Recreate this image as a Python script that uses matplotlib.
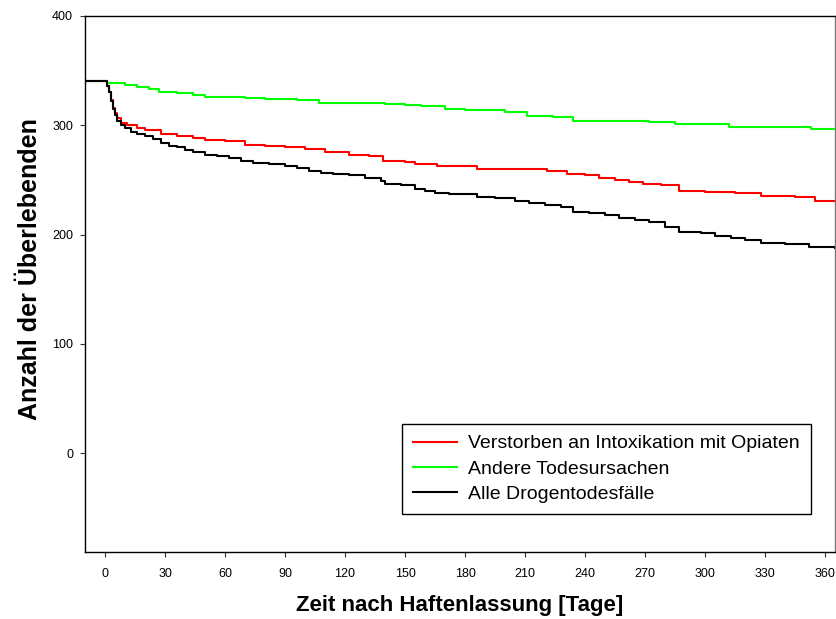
import matplotlib
matplotlib.use("Agg")
import matplotlib.pyplot as plt

plt.rcParams['font.family'] = ['Liberation Sans', 'DejaVu Sans']

# Kaplan-Meier style step data: (day, number of survivors)
days_opiate = [-10, 1, 2, 3, 4, 5, 6, 8, 11, 16, 20, 28, 36, 44, 50, 60, 70, 80, 90,
               100, 110, 122, 132, 139, 150, 155, 166, 186, 221, 231, 240, 247, 255,
               262, 269, 278, 287, 300, 315, 328, 345, 355, 365]
surv_opiate = [340, 336, 330, 323, 316, 311, 306, 302, 300, 297, 295, 292, 290, 288, 286,
               285, 282, 281, 280, 278, 275, 273, 272, 267, 266, 264, 263, 260, 258, 255,
               254, 252, 250, 248, 246, 245, 240, 239, 238, 235, 234, 231, 231]

days_other = [-10, 1, 10, 16, 22, 27, 36, 44, 50, 70, 80, 96, 107, 140, 150, 158, 170,
              180, 200, 211, 224, 234, 272, 285, 312, 353, 365]
surv_other = [340, 338, 337, 335, 333, 330, 329, 327, 326, 325, 324, 323, 320, 319, 318,
              317, 315, 314, 312, 308, 307, 304, 303, 301, 298, 296, 296]

days_all = [-10, 1, 2, 3, 4, 5, 6, 8, 10, 13, 16, 20, 24, 28, 32, 36, 40, 44, 50, 56, 62,
            68, 74, 82, 90, 96, 102, 108, 114, 122, 130, 138, 140, 148, 155, 160, 165,
            172, 186, 195, 205, 212, 220, 228, 234, 242, 250, 257, 265, 272, 280, 287,
            298, 305, 313, 320, 328, 340, 352, 365]
surv_all = [340, 336, 330, 322, 315, 309, 304, 300, 297, 294, 292, 290, 287, 284, 281,
            280, 277, 275, 273, 272, 270, 267, 265, 264, 263, 261, 258, 256, 255, 254,
            252, 249, 246, 245, 242, 240, 238, 237, 234, 233, 231, 229, 227, 225, 221,
            220, 218, 215, 213, 211, 207, 202, 201, 199, 197, 195, 192, 191, 189, 188]

labels = ['Verstorben an Intoxikation mit Opiaten', 'Andere Todesursachen',
          'Alle Drogentodesfälle']

fig = plt.figure(figsize=(8.37, 6.19), dpi=100)
ax = fig.add_axes([0.1016, 0.1082, 0.896, 0.8667])

ax.step(days_opiate, surv_opiate, where='post', color='#ff0000', lw=1.5, label=labels[0])
ax.step(days_other, surv_other, where='post', color='#00ff00', lw=1.5, label=labels[1])
ax.step(days_all, surv_all, where='post', color='black', lw=1.5, label=labels[2])

ax.set_xlim(-10, 365)
ax.set_ylim(-90, 400)
ax.set_xticks(range(0, 361, 30))
ax.set_yticks(range(0, 401, 100))
ax.tick_params(direction='out', length=3.6, width=0.8, labelsize=9, colors='#333333',
               labelcolor='black')
ax.tick_params(axis='x', pad=8)
ax.tick_params(axis='y', pad=5)
for s in ax.spines.values():
    s.set_linewidth(1.0)
ax.spines['right'].set_color('#777777')

ax.set_xlabel('Zeit nach Haftenlassung [Tage]', fontsize=16, fontweight='bold', labelpad=11)
ax.set_ylabel('Anzahl der Überlebenden', fontsize=18, fontweight='bold')
ax.yaxis.set_label_coords(-0.057, 0.527)

leg = ax.legend(loc='lower left', bbox_to_anchor=(0.423, 0.071), borderaxespad=0,
                fontsize=14, frameon=True, fancybox=False, edgecolor='black',
                framealpha=1, handlelength=2.27, handletextpad=0.57, borderpad=0.55,
                labelspacing=0.4)
leg.get_frame().set_linewidth(1.0)

fig.savefig('out.png', dpi=100)
